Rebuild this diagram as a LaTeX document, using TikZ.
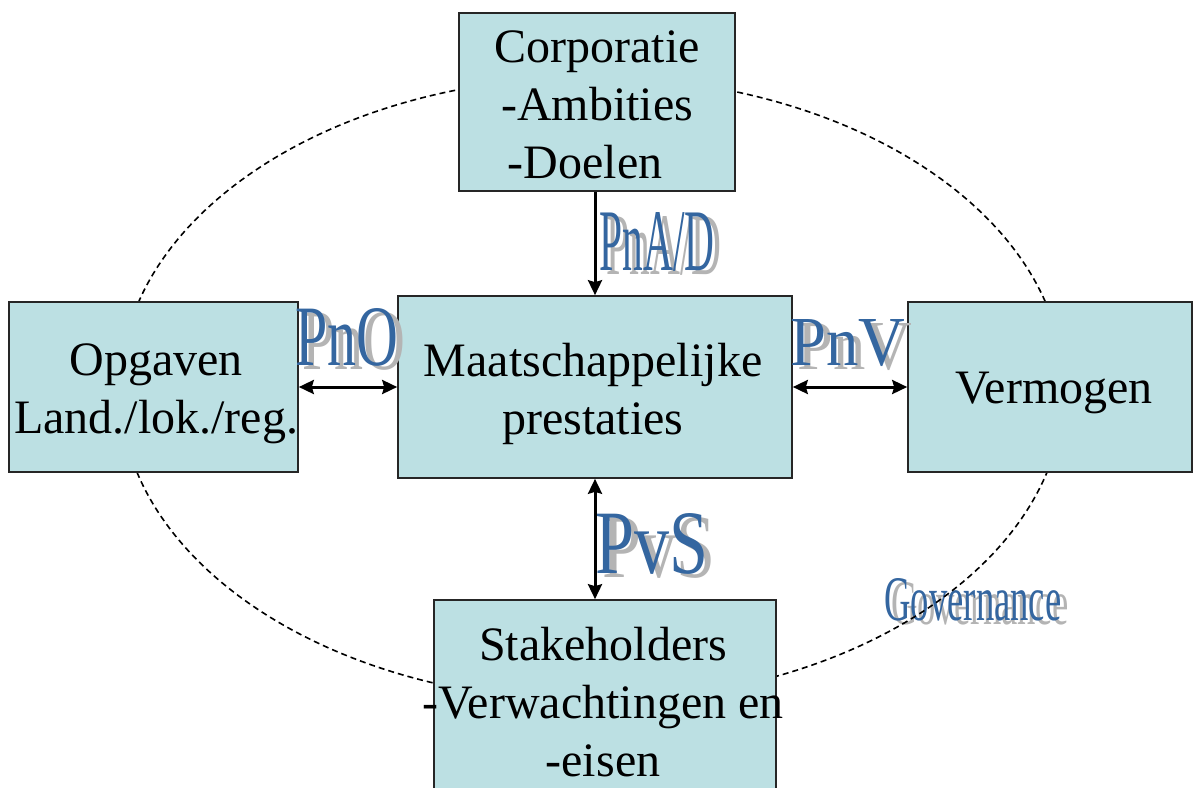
\documentclass[tikz,border=0pt]{standalone}
\usepackage{fontspec}
\setmainfont{Liberation Serif}
\usetikzlibrary{arrows.meta,calc}
\definecolor{boxfill}{RGB}{188,224,227}
\definecolor{wablue}{RGB}{52,102,160}
\definecolor{wagray}{RGB}{180,180,180}
\newcommand{\wordart}[5]{%
  \node[inner sep=0pt] (#1) at (#2)
    {\makebox[0pt][l]{\hspace*{3.5pt}\smash{\raisebox{-2pt}{\textcolor{wagray}{\resizebox{#3}{#4}{#5}}}}}%
     \textcolor{wablue}{\resizebox{#3}{#4}{#5}}};}
\begin{document}
\begin{tikzpicture}[x=0.5pt,y=-0.5pt,
  box/.style={draw=black!85, line width=0.8pt, fill=boxfill, inner sep=0pt},
  plaintext/.style={inner sep=0pt, font=\fontsize{24}{29}\selectfont, align=center},
  tip/.tip={Stealth[length=7.5pt,width=7pt,inset=1pt]},
  conn/.style={line width=1.5pt, -tip},
  bconn/.style={line width=1.5pt, tip-tip},
  gov/.style={line width=0.8pt, dash pattern=on 3pt off 2pt}]
\clip (0,0) rectangle (1193,787);
\fill[white] (0,0) rectangle (1193,787);
% Governance label (under the ellipse)
\coordinate (govc) at (973,600);
\wordart{govlab}{govc}{88.5pt}{21pt}{Governance}
% ellipse
\draw[gov] (592,389) ellipse [x radius=236pt, y radius=156pt];
% boxes
\node[box, minimum width=138pt, minimum height=89pt] (corp) at (597,102) {};
\node[box, minimum width=197pt, minimum height=91pt] (maat) at (595,387) {};
\node[box, minimum width=144.5pt, minimum height=85pt] (opg) at (153.5,387) {};
\node[box, minimum width=142pt, minimum height=85pt] (verm) at (1050,387) {};
\node[box, minimum width=171pt, minimum height=100pt] (stake) at (605,700) {};
% texts
\node[plaintext] (corptext) at (597,105) {Corporatie\\-Ambities\\-Doelen\hspace*{12pt}};
\node[plaintext] (maattext) at (593,394) {Maatschappelijke\\prestaties};
\node[plaintext] (opgtext) at (156,394) {Opgaven\\Land./lok./reg.};
\node[plaintext] (vermtext) at (1054,393) {Vermogen};
\node[plaintext] (staketext) at (603,702) {Stakeholders\\-Verwachtingen en\\-eisen};
% labels
\coordinate (c1) at (657,242);
\wordart{pna}{c1}{57.5pt}{29pt}{PnA/D}
\coordinate (c2) at (347,337);
\wordart{pno}{c2}{51.5pt}{28.5pt}{PnO}
\coordinate (c3) at (848,343);
\wordart{pnv}{c3}{57.5pt}{23pt}{PnV}
\coordinate (c4) at (652,544);
\wordart{pvs}{c4}{56.5pt}{30pt}{PvS}
% connectors
\draw[conn] (corp.south -| maat.north) -- (maat.north);
\draw[bconn] (opg.east) -- (maat.west);
\draw[bconn] (maat.east) -- (verm.west);
\draw[bconn] (maat.south) -- (maat.south |- stake.north);
\end{tikzpicture}
\end{document}
